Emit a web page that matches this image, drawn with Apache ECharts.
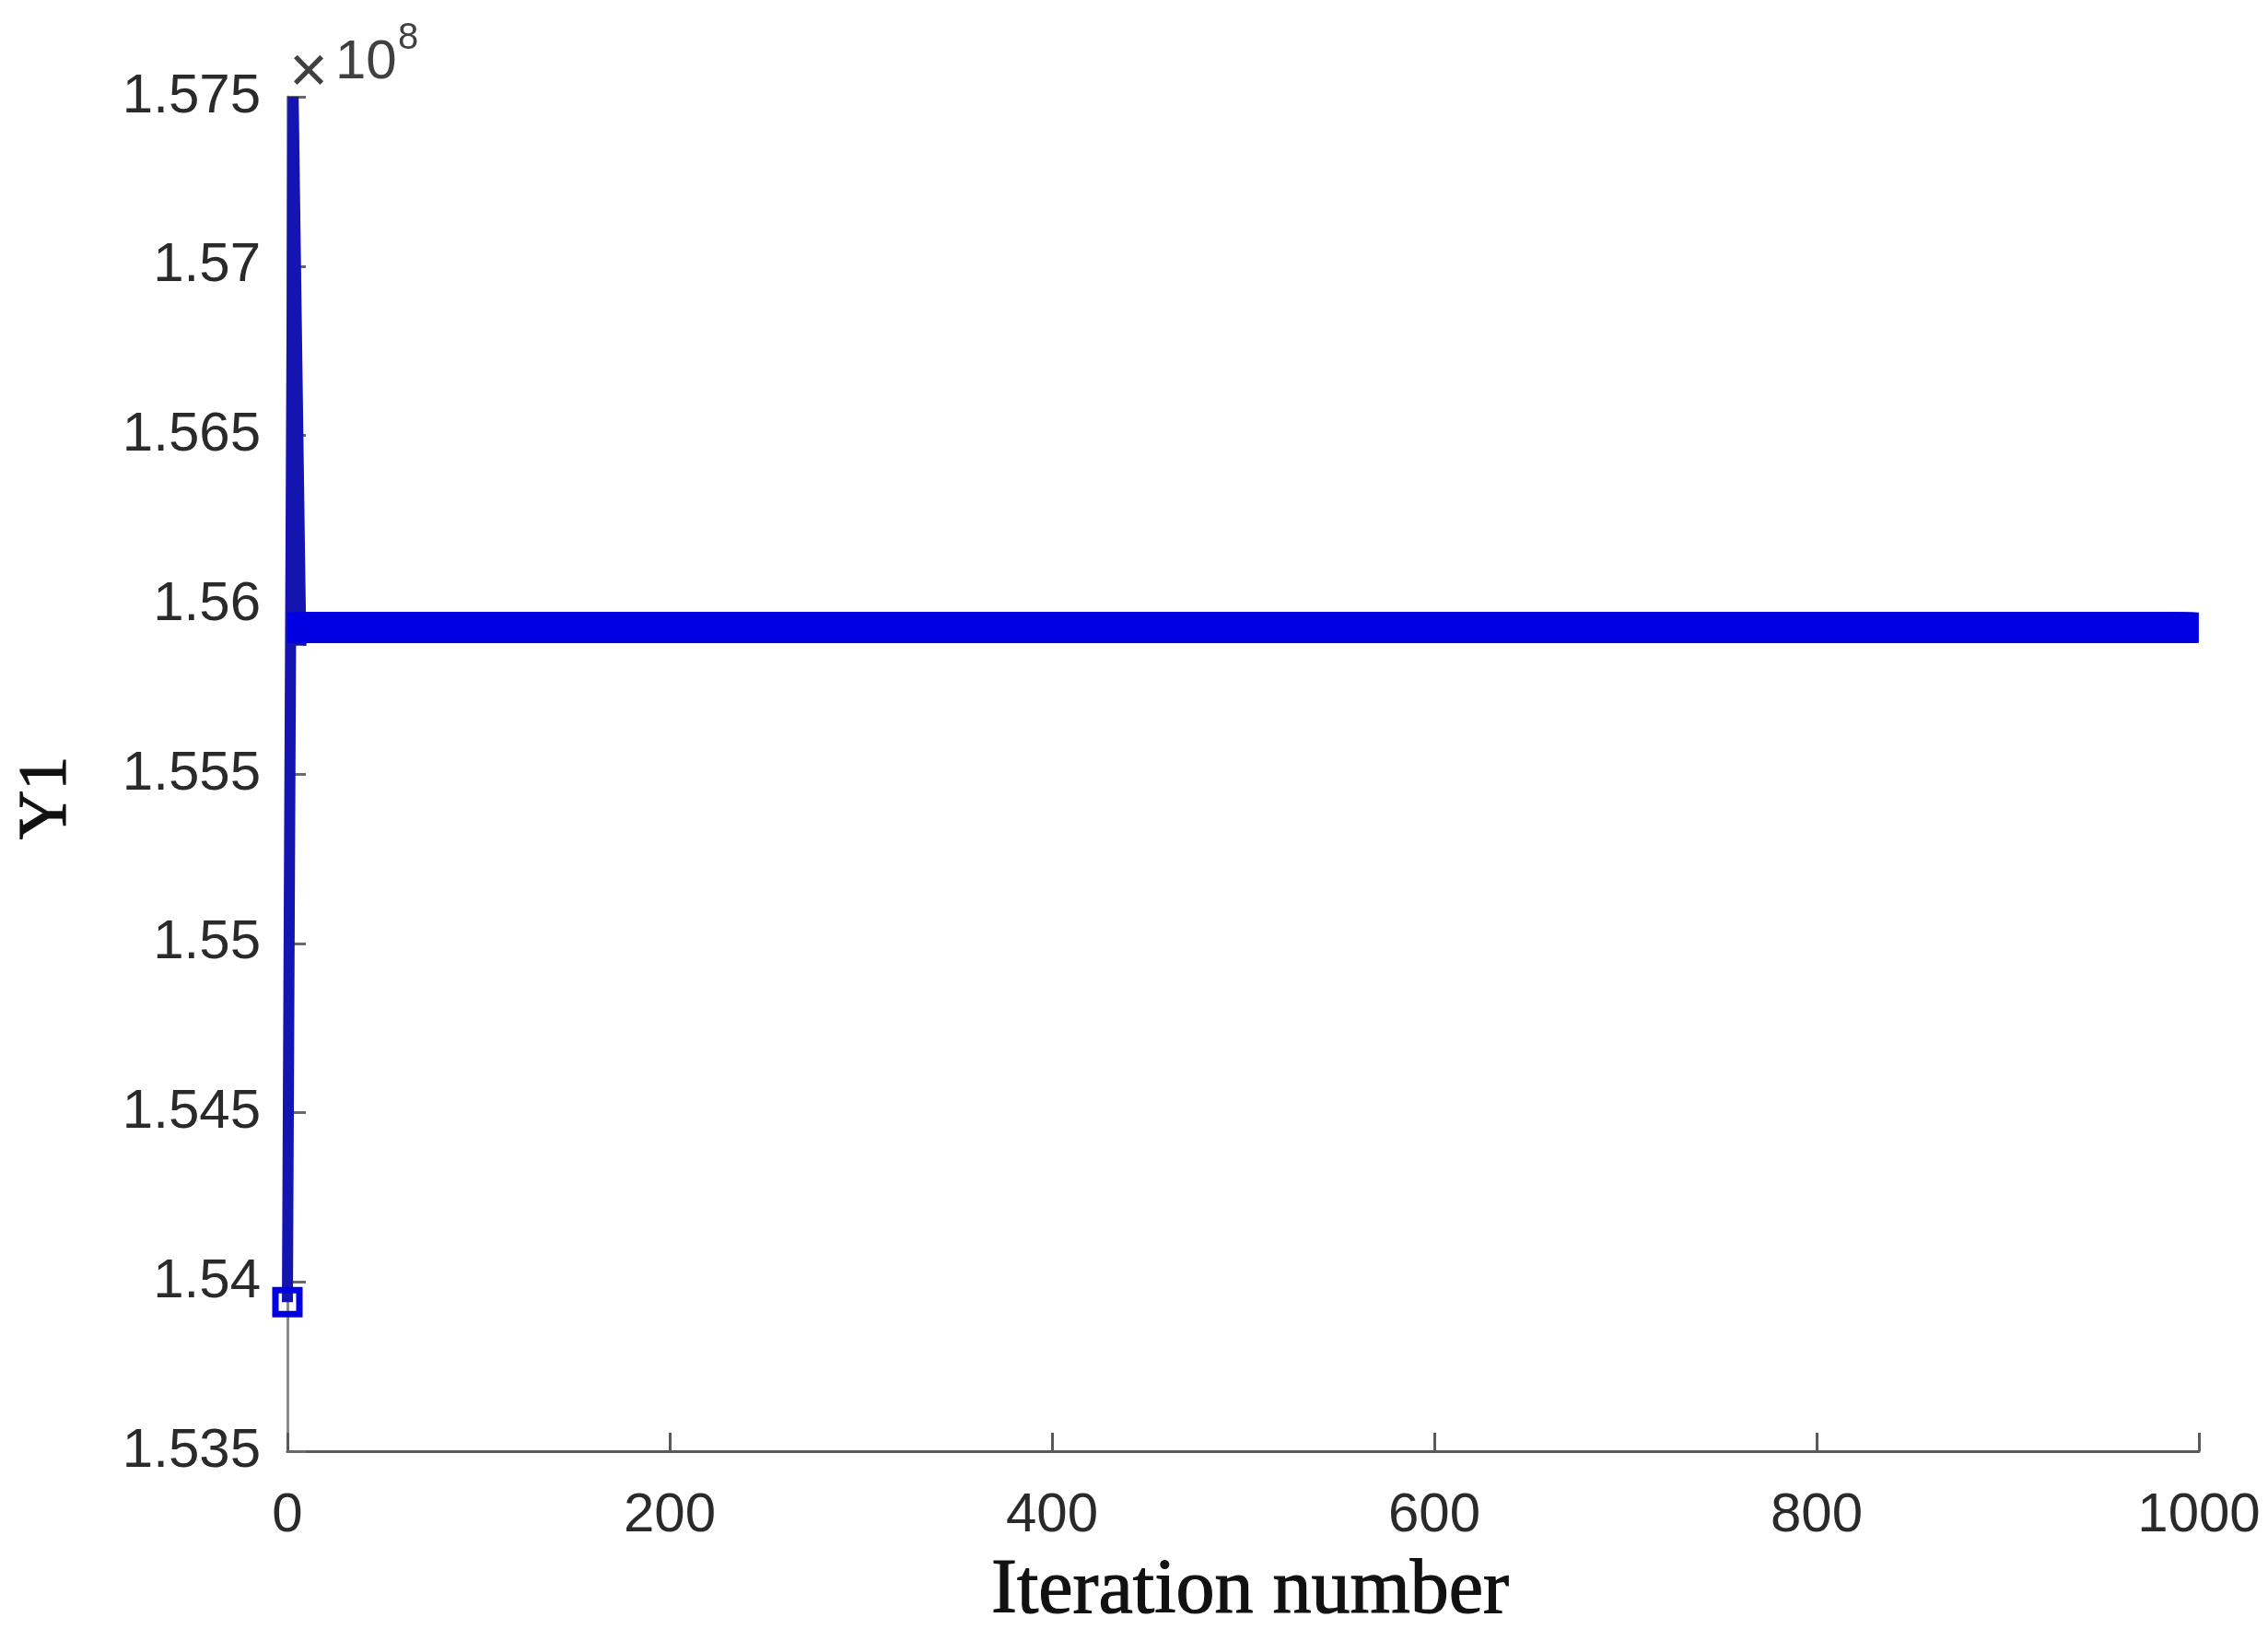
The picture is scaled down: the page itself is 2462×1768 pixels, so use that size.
<!DOCTYPE html>
<html>
<head>
<meta charset="utf-8">
<script src="https://cdn.jsdelivr.net/npm/echarts@6.0.0/dist/echarts.min.js"></script>
<style>
html, body { margin: 0; padding: 0; background: #ffffff; }
#chart { width: 2462px; height: 1768px; }
</style>
</head>
<body>
<div id="chart"></div>
<script>
// ---- data ----
// transient part of the run (first iterations)
const transientIterations = [0, 3, 7];
const transientY1 = [1.5394e8, 1.5750e8, 1.5588e8];
// converged plateau: the value stays constant from this iteration to the end of the band
const plateauFirstIteration = 8;
const plateauLastIteration = 992;
const plateauY1 = 1.55932e8;

// axes
const xMin = 0, xMax = 1000, xStep = 200;
const yMin = 1.535e8, yMax = 1.575e8, yStep = 0.005e8;
const yExponentLabel = '10';
const yExponentPower = '8';
const xTitle = 'Iteration number';
const yTitle = 'Y1';

// ---- build series ----
const points = [];
transientIterations.forEach(function (it, i) {
  points.push({ value: [it, transientY1[i]], symbol: i === 0 ? 'rect' : 'none' });
});
for (let it = plateauFirstIteration; it <= plateauLastIteration; it++) {
  points.push({ value: [it, plateauY1] });
}

const chart = echarts.init(document.getElementById('chart'), null, { renderer: 'canvas' });
const axisTextColor = '#2a2a2a';
const option = {
  animation: false,
  backgroundColor: '#ffffff',
  grid: { left: 312, right: 75, top: 105, bottom: 193, containLabel: false },
  xAxis: {
    type: 'value', min: xMin, max: xMax, interval: xStep,
    axisLine: { show: true, onZero: false, lineStyle: { color: '#5a5a5a', width: 3 } },
    axisTick: { show: true, inside: true, length: 20, lineStyle: { color: '#5a5a5a', width: 3 } },
    axisLabel: {
      fontSize: 60, color: axisTextColor, fontFamily: 'Liberation Sans, Arial, sans-serif', margin: 40,
      formatter: function (v) { return String(v); }
    },
    splitLine: { show: false }
  },
  yAxis: {
    type: 'value', min: yMin, max: yMax, interval: yStep,
    axisLine: { show: true, onZero: false, lineStyle: { color: '#8a8a8a', width: 3 } },
    axisTick: { show: true, inside: true, length: 20, lineStyle: { color: '#6a6a6a', width: 3 } },
    axisLabel: {
      fontSize: 60, color: axisTextColor, fontFamily: 'Liberation Sans, Arial, sans-serif', margin: 29,
      formatter: function (v) { return String(+(v / 1e8).toFixed(3)); }
    },
    splitLine: { show: false }
  },
  series: [{
    type: 'line',
    data: points,
    symbol: 'rect',
    symbolSize: 26,
    showAllSymbol: true,
    clip: false,
    lineStyle: { color: '#1414b0', width: 12, join: 'bevel', cap: 'butt' },
    itemStyle: { color: 'rgba(0,0,0,0)', borderColor: '#0000e0', borderWidth: 7 },
    emphasis: { disabled: true },
    z: 3
  }],
  graphic: [
    { type: 'text', left: 314, top: 44, silent: true,
      style: { text: '\u00d7', font: '72px "Liberation Sans", Arial, sans-serif', fill: '#404040' } },
    { type: 'text', left: 364, top: 38, silent: true,
      style: { text: yExponentLabel, font: '60px "Liberation Sans", Arial, sans-serif', fill: '#404040' } },
    { type: 'text', left: 432, top: 22, silent: true,
      style: { text: yExponentPower, font: '40px "Liberation Sans", Arial, sans-serif', fill: '#404040' } },
    { type: 'text', x: 1357, y: 1728, silent: true,
      style: { text: xTitle, font: '84px "Liberation Serif", "Times New Roman", serif', fill: '#111111',
               stroke: '#111111', lineWidth: 1.2, align: 'center', verticalAlign: 'middle' } },
    { type: 'text', x: 52, y: 866, rotation: Math.PI / 2, silent: true,
      style: { text: yTitle, font: '74px "Liberation Serif", "Times New Roman", serif', fill: '#111111',
               stroke: '#111111', lineWidth: 1.2, align: 'center', verticalAlign: 'middle' } }
  ]
};
chart.setOption(option);
</script>
</body>
</html>
